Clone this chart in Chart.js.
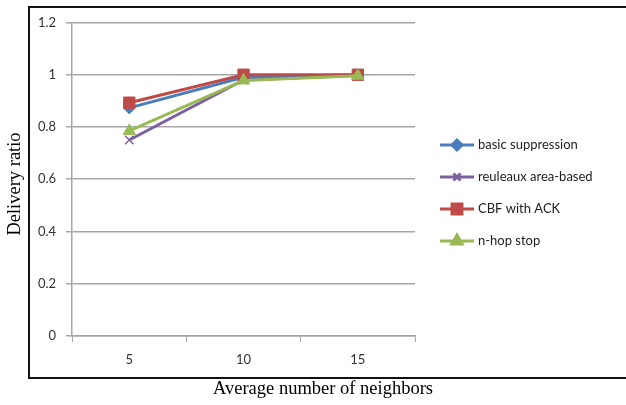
<!DOCTYPE html>
<html>
<head>
<meta charset="utf-8">
<script src="https://cdn.jsdelivr.net/npm/chart.js@4"></script>
<style>
  html, body { margin: 0; padding: 0; background: #fff; }
  #wrap { position: relative; width: 626px; height: 405px; }
</style>
</head>
<body>
<div id="wrap"><canvas id="chart" width="626" height="405"></canvas></div>
<script>
// data
const categories = ['5', '10', '15'];
const basicSuppression = [0.873, 0.99, 1.0];
const reuleauxArea = [0.75, 0.98, 0.998];
const cbfWithAck = [0.893, 1.0, 1.0];
const nHopStop = [0.785, 0.978, 0.996];
const yTicks = [0, 0.2, 0.4, 0.6, 0.8, 1, 1.2];

const seriesNames = ['basic suppression', 'reuleaux area-based', 'CBF with ACK', 'n-hop stop'];
const seriesColors = ['#4a7ebb', '#7d60a0', '#be4b48', '#98b954'];
const seriesMarkers = ['rectRot', 'crossRot', 'rect', 'triangle'];
const markerSizes = [6, 6, 8, 7];
const drawOrder = [2, 3, 1, 0]; // green on top, then red, blue, purple
const xTitle = 'Average number of neighbors';
const yTitle = 'Delivery ratio';

const allValues = [basicSuppression, reuleauxArea, cbfWithAck, nHopStop];

const datasets = allValues.map((vals, i) => ({
    label: seriesNames[i],
    data: vals,
    order: drawOrder[i],
    borderColor: seriesColors[i],
    backgroundColor: seriesColors[i],
    borderWidth: 3,
    pointStyle: seriesMarkers[i],
    pointRadius: markerSizes[i],
    pointBorderWidth: i === 1 ? 1.5 : 1,
    pointBorderColor: seriesColors[i],
    tension: 0
}));

// outer frame, axis titles and legend drawn by hand (line with marker, like the original)
const framePlugin = {
    id: 'frame',
    afterDraw(chart) {
        const ctx = chart.ctx;
        ctx.save();
        ctx.strokeStyle = '#111';
        ctx.lineWidth = 2;
        ctx.strokeRect(29, 7, 610, 371);

        ctx.fillStyle = '#000';
        ctx.font = '18.5px "Liberation Serif"';
        ctx.textAlign = 'center';
        ctx.textBaseline = 'middle';
        ctx.fillText(xTitle, 323, 389);
        ctx.save();
        ctx.translate(15, 184);
        ctx.rotate(-Math.PI / 2);
        ctx.fillText(yTitle, 0, 0);
        ctx.restore();

        const lx = 440, tx = 478;
        ctx.textAlign = 'left';
        seriesNames.forEach((name, i) => {
            const y = 145 + i * 32;
            ctx.strokeStyle = seriesColors[i];
            ctx.lineWidth = 3;
            ctx.beginPath();
            ctx.moveTo(lx, y);
            ctx.lineTo(lx + 34, y);
            ctx.stroke();
            Chart.helpers.drawPoint(ctx, {
                pointStyle: seriesMarkers[i],
                radius: markerSizes[i] - 1,
                borderWidth: 1
            }, lx + 17, y);
            ctx.fillStyle = seriesColors[i];
            ctx.fill();
            ctx.fillStyle = '#222';
            ctx.font = '13px Lato';
            ctx.fillText(name, tx, y);
        });
        ctx.restore();
    }
};

const ctx = document.getElementById('chart').getContext('2d');
new Chart(ctx, {
    type: 'line',
    data: { labels: categories, datasets: datasets },
    plugins: [framePlugin],
    options: {
        responsive: false,
        animation: false,
        layout: { padding: { left: 28, top: 22.5, right: 211, bottom: 27.5 } },
        plugins: {
            legend: { display: false },
            tooltip: { enabled: false }
        },
        scales: {
            x: {
                offset: true,
                grid: {
                    offset: true,
                    drawOnChartArea: false,
                    drawTicks: true,
                    tickLength: 6,
                    color: '#a6a6a6'
                },
                border: { color: '#a6a6a6', width: 1.5 },
                ticks: {
                    color: '#333',
                    padding: 10,
                    font: { family: 'Lato', size: 13 }
                }
            },
            y: {
                min: 0,
                max: 1.2,
                afterBuildTicks(scale) {
                    scale.ticks = yTicks.map(v => ({ value: v }));
                },
                grid: {
                    color: '#a6a6a6',
                    lineWidth: 1.5,
                    tickLength: 6
                },
                border: { color: '#a6a6a6', width: 1.5 },
                ticks: {
                    color: '#333',
                    padding: 10,
                    font: { family: 'Lato', size: 13 },
                    callback: v => String(+v.toFixed(1))
                }
            }
        }
    }
});
</script>
</body>
</html>
